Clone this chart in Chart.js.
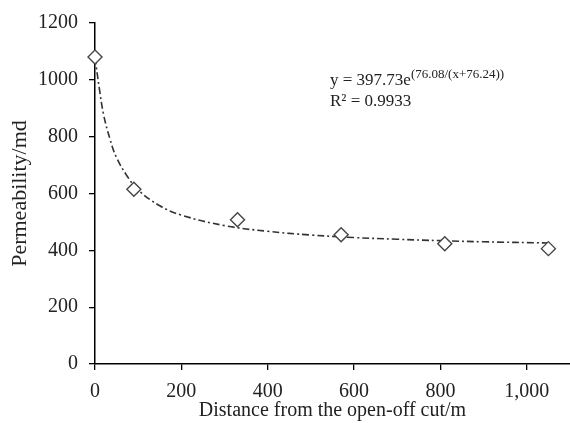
<!DOCTYPE html>
<html>
<head>
<meta charset="utf-8">
<script src="https://cdn.jsdelivr.net/npm/chart.js@4"></script>
<style>
  html, body { margin: 0; padding: 0; background: #fff; }
  #wrap { width: 570px; height: 423px; }
</style>
</head>
<body>
<div id="wrap"><canvas id="chart"></canvas></div>
<script>
// ── Measured points (distance / permeability) ──────────────────
const distance     = [0, 90, 330, 570, 810, 1050];
const permeability = [1080, 615, 508, 455, 423, 406];

// ── Fitted trend line ──────────────────────────────────────────
const fitX = [0, 10, 20, 35, 50, 75, 100, 150, 200, 300, 400, 500, 600, 700, 800, 900, 1050];
const fitY = [1079, 970, 877, 790, 726, 660, 612, 557, 524, 487, 467, 454, 445, 439, 434, 430, 426];

// ── Axis ticks ─────────────────────────────────────────────────
const xTicks = [0, 200, 400, 600, 800, 1000];
const yTicks = [0, 200, 400, 600, 800, 1000, 1200];

const fitLabel = "y = 397.73e";
const fitExpo  = "(76.08/(x+76.24))";
const fitR2    = "R² = 0.9933";

const serif = "'Liberation Serif', 'DejaVu Serif', serif";
const ink   = "#222";

// ── Equation text in the upper right ───────────────────────────
const equationPlugin = {
  id: "equation",
  afterDraw(chart) {
    const ctx = chart.ctx;
    ctx.save();
    ctx.fillStyle = ink;
    ctx.textBaseline = "alphabetic";
    ctx.font = `17px ${serif}`;
    const x0 = 330, y0 = 85;
    ctx.fillText(fitLabel, x0, y0);
    const w = ctx.measureText(fitLabel).width;
    ctx.font = `13px ${serif}`;
    ctx.fillText(fitExpo, x0 + w, y0 - 7);
    ctx.font = `17px ${serif}`;
    ctx.fillText(fitR2, x0, y0 + 21);
    ctx.restore();
  },
};

new Chart(document.getElementById("chart").getContext("2d"), {
  type: "scatter",
  data: {
    datasets: [
      {
        label: "fit",
        type: "line",
        data: fitX.map((x, i) => ({ x, y: fitY[i] })),
        borderColor: "#333",
        borderWidth: 1.6,
        borderDash: [7, 3, 2, 3],
        pointRadius: 0,
        tension: 0.4,
        fill: false,
        order: 2,
      },
      {
        label: "measured",
        data: distance.map((x, i) => ({ x, y: permeability[i] })),
        pointStyle: "rectRot",
        pointRadius: 7,
        pointBorderWidth: 1.4,
        pointBorderColor: "#444",
        pointBackgroundColor: "#fff",
        clip: false,
        order: 1,
      },
    ],
  },
  options: {
    responsive: true,
    maintainAspectRatio: false,
    animation: false,
    layout: { autoPadding: false, padding: { top: 22, right: 0, left: 0, bottom: 0 } },
    plugins: {
      legend: { display: false },
      tooltip: { enabled: false },
    },
    scales: {
      x: {
        type: "linear",
        min: 0,
        max: 1100,
        afterBuildTicks: axis => { axis.ticks = xTicks.map(value => ({ value })); },
        afterFit: axis => { axis.height = 59; },
        ticks: { color: ink, padding: 10, font: { family: serif, size: 20 } },
        grid: { drawOnChartArea: false, drawTicks: true, tickLength: 6, color: "#000", lineWidth: 1.3 },
        border: { display: true, color: "#000", width: 1.5 },
        title: {
          display: true,
          text: "Distance from the open-off cut/m",
          color: ink,
          font: { family: serif, size: 20 },
          padding: { top: 0, bottom: 0 },
        },
      },
      y: {
        min: 0,
        max: 1200,
        afterBuildTicks: axis => { axis.ticks = yTicks.map(value => ({ value })); },
        afterFit: axis => { axis.width = 95; },
        ticks: {
          color: ink,
          padding: 11,
          font: { family: serif, size: 20 },
          callback: v => String(v),
        },
        grid: { drawOnChartArea: false, drawTicks: true, tickLength: 6, color: "#000", lineWidth: 1.3 },
        border: { display: true, color: "#000", width: 1.5 },
        title: {
          display: true,
          text: "Permeability/md",
          color: ink,
          font: { family: serif, size: 22 },
          padding: { top: 7, bottom: 0 },
        },
      },
    },
  },
  plugins: [equationPlugin],
});
</script>
</body>
</html>
